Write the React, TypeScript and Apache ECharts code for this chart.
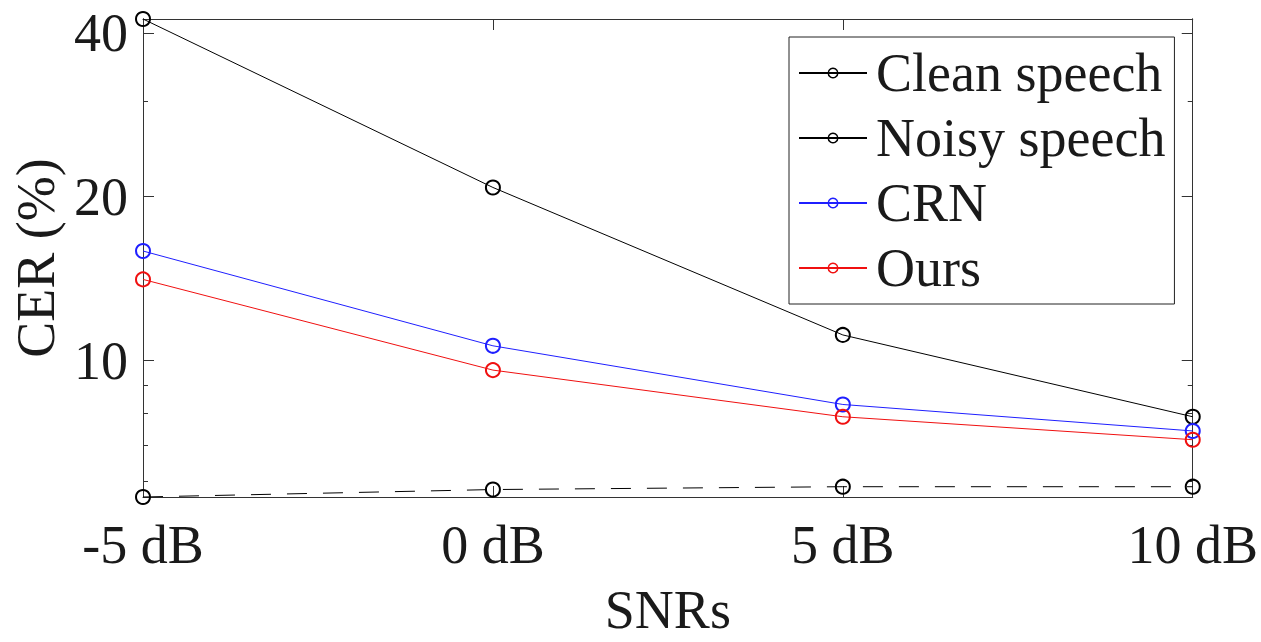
import React, { useEffect, useRef } from 'react';
import * as echarts from 'echarts';

const snrLabels = ['-5 dB', '0 dB', '5 dB', '10 dB'];
const cleanSpeech = [5.62, 5.8, 5.87, 5.87];
const noisySpeech = [42.4, 20.8, 11.15, 7.89];
const crn = [15.9, 10.65, 8.31, 7.43];
const ours = [14.1, 9.61, 7.89, 7.16];
const yMajorTicks = [10, 20, 40];
const yMinorTicks = [6, 7, 8, 9, 30];
const yMin = 5.62;
const yMax = 42.4;

const FONT = '"Liberation Serif", "Times New Roman", serif';
const AXIS = '#333';
const TEXT = '#1a1a1a';

function makeSeries(name: string, data: number[], color: string, dashed: boolean) {
  return {
    name,
    type: 'line',
    data,
    xAxisIndex: 0,
    yAxisIndex: 0,
    symbol: 'circle',
    symbolSize: 14,
    clip: false,
    itemStyle: { color: 'rgba(0,0,0,0)', borderColor: color, borderWidth: 2 },
    lineStyle: { color, width: 1, type: dashed ? [20, 16] : 'solid' },
    emphasis: { disabled: true },
  };
}

export default function App() {
  const ref = useRef<HTMLDivElement>(null);
  useEffect(() => {
    if (!ref.current) return;
    const chart = echarts.init(ref.current, undefined, { renderer: 'svg' });
    const yBase = (pos: string, ticks: number[], len: number, withLabel: boolean) => ({
      type: 'log',
      logBase: 10,
      min: yMin,
      max: yMax,
      position: pos,
      offset: 0,
      axisLine: { show: true, lineStyle: { color: AXIS, width: 1 } },
      axisTick: { show: true, inside: true, length: len, customValues: ticks, lineStyle: { color: AXIS, width: 1 } },
      axisLabel: withLabel
        ? { show: true, customValues: ticks, fontFamily: FONT, fontSize: 54, color: TEXT, margin: 15 }
        : { show: false },
      splitLine: { show: false },
      minorTick: { show: false },
      minorSplitLine: { show: false },
    });
    chart.setOption({
      animation: false,
      backgroundColor: '#fff',
      grid: { left: 143, top: 19, width: 1051, height: 489, containLabel: false },
      xAxis: [
        {
          type: 'category',
          data: snrLabels,
          boundaryGap: false,
          position: 'bottom',
          axisLine: { show: true, lineStyle: { color: AXIS, width: 1 } },
          axisTick: { show: true, inside: true, length: 11, lineStyle: { color: AXIS } },
          axisLabel: { interval: 0, fontFamily: FONT, fontSize: 54, color: TEXT, margin: 21 },
          splitLine: { show: false },
          name: 'SNRs',
          nameLocation: 'middle',
          nameGap: 86,
          nameTextStyle: { fontFamily: FONT, fontSize: 54, color: TEXT },
        },
        {
          type: 'category',
          data: snrLabels,
          boundaryGap: false,
          position: 'top',
          axisLine: { show: true, lineStyle: { color: AXIS, width: 1 } },
          axisTick: { show: true, inside: true, length: 11, lineStyle: { color: AXIS } },
          axisLabel: { show: false },
          splitLine: { show: false },
        },
      ],
      yAxis: [
        {
          ...yBase('left', yMajorTicks, 11, true),
          name: 'CER (%)',
          nameLocation: 'middle',
          nameGap: 80,
          nameRotate: 90,
          nameTextStyle: { fontFamily: FONT, fontSize: 54, color: TEXT },
        },
        yBase('left', yMinorTicks, 5, false),
        yBase('right', yMajorTicks, 11, false),
        yBase('right', yMinorTicks, 5, false),
      ],
      legend: {
        orient: 'vertical',
        left: 789,
        top: 37,
        padding: [9, 9, 9, 9],
        backgroundColor: '#fff',
        borderColor: '#222',
        borderWidth: 1,
        itemWidth: 68,
        itemHeight: 12,
        itemGap: 11,
        selectedMode: false,
        textStyle: { fontFamily: FONT, fontSize: 54, color: TEXT, lineHeight: 54, padding: [0, 0, 0, 4] },
        data: [
          { name: 'Clean speech', lineStyle: { type: 'solid' }, itemStyle: { borderWidth: 1.5 } },
          { name: 'Noisy speech', itemStyle: { borderWidth: 1.5 } },
          { name: 'CRN', itemStyle: { borderWidth: 1.5 } },
          { name: 'Ours', itemStyle: { borderWidth: 1.5 } },
        ],
      },
      series: [
        makeSeries('Clean speech', cleanSpeech, '#000', true),
        makeSeries('Noisy speech', noisySpeech, '#000', false),
        makeSeries('CRN', crn, '#1f1fff', false),
        makeSeries('Ours', ours, '#f01010', false),
      ],
    });
    return () => chart.dispose();
  }, []);
  return <div ref={ref} style={{ position: 'fixed', left: 0, top: 0, width: 1261, height: 642 }} />;
}
